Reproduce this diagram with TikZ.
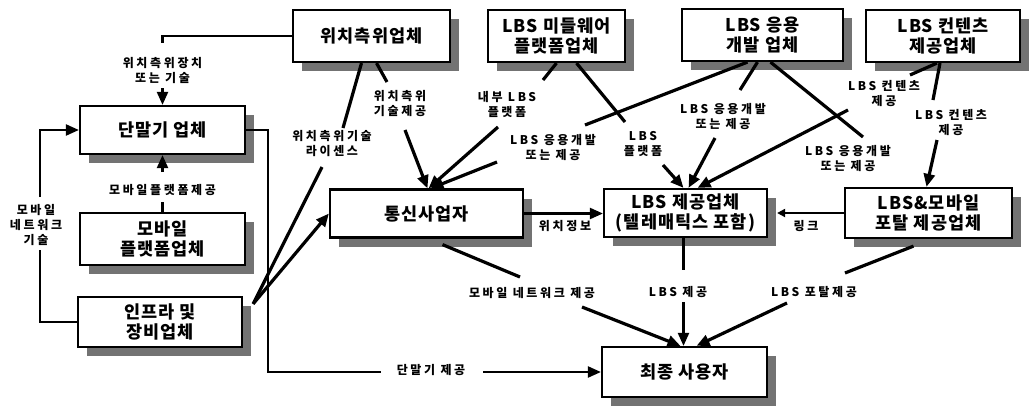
\documentclass[tikz,border=0pt]{standalone}
\usepackage{fontspec}
\newfontfamily\kr{Noto Sans CJK KR}[LetterSpace=6]
\newfontfamily\krs{Noto Sans CJK KR}[LetterSpace=22]
\usetikzlibrary{arrows.meta,shadows}
\begin{document}
\begin{tikzpicture}[x=1pt,y=-1pt,
  box/.style={draw, line width=2.2pt, fill=white, align=center, inner sep=0pt,
    font=\kr\bfseries\fontsize{17.5}{20}\selectfont,
    drop shadow={shadow xshift=9pt, shadow yshift=-9pt, fill=black!55, opacity=1}},
  lab/.style={align=center, inner sep=1pt, font=\krs\bfseries\fontsize{12}{15}\selectfont},
  ln/.style={line width=3.2pt},
  oln/.style={line width=2.2pt},
  arr/.style={-{Triangle[length=13pt,width=11pt]}},
  sarr/.style={-{Triangle[length=8pt,width=8pt]}},
]
\useasboundingbox (0,0) rectangle (1033,405);
\fill[white] (0,0) rectangle (1033,405);

% boxes
\node[box, minimum width=157pt, minimum height=52pt] (wich) at (371.5,36) {위치측위업체};
\node[box, minimum width=137pt, minimum height=52pt] (mid) at (556.5,36) {LBS 미들웨어\\플랫폼업체};
\node[box, minimum width=161pt, minimum height=52pt] (app) at (762.5,35) {LBS 응용\\개발 업체};
\node[box, minimum width=154pt, minimum height=52pt] (cont) at (943,36) {LBS 컨텐츠\\제공업체};
\node[box, minimum width=165pt, minimum height=48pt] (term) at (162.5,130) {단말기 업체};
\node[box, minimum width=165pt, minimum height=52pt] (mplat) at (162.5,239) {모바일\\플랫폼업체};
\node[box, minimum width=164pt, minimum height=50pt] (infra) at (160,322) {인프라 및\\장비업체};
\node[box, minimum width=193pt, minimum height=48pt] (telco) at (426.5,213.5) {통신사업자};
\node[box, minimum width=163pt, minimum height=48pt] (lbsp) at (685.5,213) {LBS 제공업체\\(텔레매틱스 포함)};
\node[box, minimum width=167pt, minimum height=50pt] (portal) at (928.5,213) {LBS\&모바일\\포탈 제공업체};
\node[box, minimum width=165pt, minimum height=50pt] (user) at (684.5,372) {최종 사용자};

% labels
\node[lab] (lab1) at (162.5,70) {위치측위장치\\또는 기술};
\node[lab] (lab2) at (162.5,190) {모바일플랫폼제공};
\node[lab] (lab3) at (36,225) {모바일\\네트워크\\기술};
\node[lab] (lab4) at (431,370) {단말기 제공};
\node[lab] (lab5) at (332,144) {위치측위기술\\라이센스};
\node[lab] (lab6) at (400,104) {위치측위\\기술제공};
\node[lab] (lab7) at (507,104) {내부 LBS\\플랫폼};
\node[lab] (lab8) at (553,148) {LBS 응용개발\\또는 제공};
\node[lab] (lab9) at (643,144) {LBS\\플랫폼};
\node[lab] (lab10) at (723,117) {LBS 응용개발\\또는 제공};
\node[lab] (lab11) at (884,94) {LBS 컨텐츠\\제공};
\node[lab] (lab12) at (951,123) {LBS 컨텐츠\\제공};
\node[lab] (lab13) at (848,159) {LBS 응용개발\\또는 제공};
\node[lab] (lab14) at (565,226) {위치정보};
\node[lab] (lab15) at (806,226) {링크};
\node[lab] (lab16) at (532,293) {모바일 네트워크 제공};
\node[lab] (lab17) at (678,292) {LBS 제공};
\node[lab] (lab18) at (814,292) {LBS 포탈제공};

% left column connectors
\draw[oln] (wich.west) -| ([shift={(0,-27)}]lab1.center);
\draw[oln,arr] ([shift={(0,18)}]lab1.center) -- (term.north);
\draw[oln] (mplat.north) -- ([shift={(0,12)}]lab2.center);
\draw[oln,arr] ([shift={(0,-18)}]lab2.center) -- (term.south);
\draw[oln] (infra.west) -| ([shift={(4,25)}]lab3.center);
\draw[oln,arr] ([shift={(4,-28)}]lab3.center) |- (term.west);
\coordinate (c4) at (268,372);
\draw[oln] (term.east) -| (c4) -- ([shift={(-50,2)}]lab4.center);
\draw[oln,arr] ([shift={(52,2)}]lab4.center) -- (user.west);

% location company
\coordinate (infc) at ([shift={(10,8)}]infra.north east);
\draw[ln] ([shift={(-10,0)}]wich.south) -- ([shift={(11,-16)}]lab5.center);
\draw[ln] ([shift={(-10,23)}]lab5.center) -- (infc);
\draw[ln,arr] (infc) -- (telco.west);
\draw[ln] ([shift={(5,0)}]wich.south) -- ([shift={(-13,-22)}]lab6.center);
\draw[ln,arr] ([shift={(5,26)}]lab6.center) -- ([shift={(1,0)}]telco.north);

% middleware
\draw[ln] (mid.south) -- ([shift={(36,-24)}]lab7.center);
\draw[ln,arr] ([shift={(-9,23)}]lab7.center) -- ([shift={(2,0)}]telco.north);
\draw[ln] ([shift={(20,0)}]mid.south) -- ([shift={(-18,-22)}]lab9.center);
\draw[ln,arr] ([shift={(20,21)}]lab9.center) -- ([shift={(-2,0)}]lbsp.north);

% application dev
\draw[ln] ([shift={(-15,0)}]app.south) -- ([shift={(32,-23)}]lab8.center);
\draw[ln,arr] ([shift={(-56,14)}]lab8.center) -- ([shift={(4,0)}]telco.north);
\draw[ln] ([shift={(-5,0)}]app.south) -- ([shift={(17,-27)}]lab10.center);
\draw[ln,arr] ([shift={(-8,21)}]lab10.center) -- ([shift={(3,0)}]lbsp.north);
\draw[ln] ([shift={(8,0)}]app.south) -- ([shift={(15,-22)}]lab13.center);

% contents
\draw[ln] ([shift={(-6,0)}]cont.south) -- ([shift={(26,-19)}]lab11.center);
\draw[ln,arr] ([shift={(-36,16)}]lab11.center) -- ([shift={(12,0)}]lbsp.north);
\draw[ln] ([shift={(-3,0)}]cont.south) -- ([shift={(-18,-23)}]lab12.center);
\draw[ln,arr] ([shift={(-14,17)}]lab12.center) -- ([shift={(-2,0)}]portal.north);

% horizontal links
\draw[oln,arr] (telco.east) -- (telco.east -| lbsp.west);
\coordinate (lbspsh) at ([shift={(9,0)}]lbsp.east);
\draw[oln,sarr] (portal.west) -- (portal.west -| lbspsh);

% to end user
\draw[ln] ([shift={(16,6)}]telco.south) -- ([shift={(-12,-16)}]lab16.center);
\draw[ln,arr] ([shift={(50,14)}]lab16.center) -- ([shift={(-4,0)}]user.north);
\draw[oln] ([shift={(-2,0)}]lbsp.south) -- ([shift={(5.5,-22)}]lab17.center);
\draw[oln,arr] ([shift={(5.5,10)}]lab17.center) -- ([shift={(-1,0)}]user.north);
\draw[ln] ([shift={(-15,7)}]portal.south) -- ([shift={(31,-19)}]lab18.center);
\draw[ln,arr] ([shift={(-27,11)}]lab18.center) -- ([shift={(12,0)}]user.north);
\end{tikzpicture}
\end{document}
